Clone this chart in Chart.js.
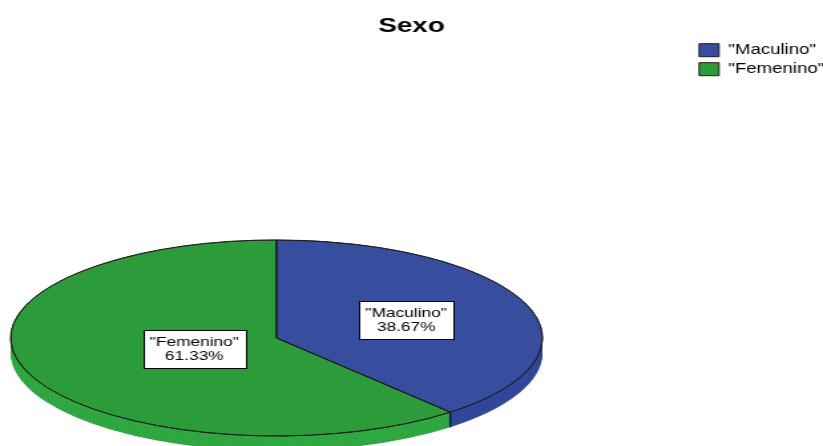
<!DOCTYPE html>
<html>
<head>
<meta charset="utf-8">
<script src="https://cdn.jsdelivr.net/npm/chart.js@4.4.1/dist/chart.umd.min.js"></script>
<style>
  html, body { margin: 0; padding: 0; background: #fff; overflow: hidden; }
  /* the chart is laid out narrow and stretched sideways, like the SPSS export */
  #wrap { width: 619px; height: 446px; transform: scaleX(1.3296); transform-origin: 0 0; }
</style>
</head>
<body>
<div id="wrap"><canvas id="sexoChart" width="619" height="446"></canvas></div>
<script>
const categories = ['"Maculino"', '"Femenino"'];
const percentages = [38.67, 61.33];
const sliceColors = ['#374d9e', '#2c9c3b'];
const sideColors = ['#32479a', '#30a842'];
const labelRadius = [0.52, 0.33];   // where each slice label sits, as a share of the radius

const FONT = '"Liberation Sans", Arial, sans-serif';

// flattens the pie into a tilted disc and gives it a side wall
const tiltPlugin = {
    id: 'tilt',
    beforeDatasetsDraw(chart, args, opts) {
        const ctx = chart.ctx;
        const arcs = chart.getDatasetMeta(0).data;
        const step = 1 / opts.tilt;
        ctx.save();
        ctx.translate(opts.cx, opts.cy);
        ctx.scale(1, opts.tilt);
        ctx.translate(-arcs[0].x, -arcs[0].y);

        for (let d = opts.depth; d >= 1; d--) {
            arcs.forEach((arc, i) => {
                ctx.beginPath();
                ctx.moveTo(arc.x, arc.y + d * step);
                ctx.arc(arc.x, arc.y + d * step, arc.outerRadius, arc.startAngle, arc.endAngle);
                ctx.closePath();
                ctx.fillStyle = sideColors[i];
                ctx.fill();
            });
        }

        // seams between slices on the front of the wall
        const a0 = arcs[0];
        ctx.beginPath();
        arcs.forEach(arc => {
            const a = ((arc.endAngle % (2 * Math.PI)) + 2 * Math.PI) % (2 * Math.PI);
            if (a > 0 && a < Math.PI) {
                const x = a0.x + a0.outerRadius * Math.cos(a);
                const y = a0.y + a0.outerRadius * Math.sin(a);
                ctx.moveTo(x, y);
                ctx.lineTo(x, y + opts.depth * step);
            }
        });
        ctx.save();
        ctx.setTransform(1, 0, 0, 1, 0, 0);
        ctx.strokeStyle = '#141414';
        ctx.lineWidth = 1.2;
        ctx.stroke();
        ctx.restore();
    },
    afterDatasetsDraw(chart, args, opts) {
        const ctx = chart.ctx;
        const arcs = chart.getDatasetMeta(0).data;

        // crisp outline of the top face
        ctx.beginPath();
        arcs.forEach(arc => {
            ctx.moveTo(arc.x, arc.y);
            ctx.arc(arc.x, arc.y, arc.outerRadius, arc.startAngle, arc.endAngle);
            ctx.closePath();
        });
        ctx.setTransform(1, 0, 0, 1, 0, 0);
        ctx.strokeStyle = '#1e1e1e';
        ctx.lineWidth = 1;
        ctx.stroke();
        ctx.restore();

        // value boxes
        ctx.save();
        ctx.font = '13px ' + FONT;
        ctx.textAlign = 'center';
        ctx.textBaseline = 'middle';
        arcs.forEach((arc, i) => {
            const mid = (arc.startAngle + arc.endAngle) / 2;
            const r = arc.outerRadius * labelRadius[i];
            const x = opts.cx + r * Math.cos(mid);
            const y = opts.cy + opts.tilt * r * Math.sin(mid);
            const lines = [categories[i], percentages[i].toFixed(2) + '%'];
            const w = Math.max(...lines.map(t => ctx.measureText(t).width)) + 10;
            const h = 38;
            const left = Math.round(x - w / 2) + 0.5;
            const top = Math.round(y - h / 2) + 0.5;
            ctx.fillStyle = '#fff';
            ctx.fillRect(left, top, Math.round(w), h);
            ctx.strokeStyle = '#000';
            ctx.lineWidth = 1;
            ctx.strokeRect(left, top, Math.round(w), h);
            ctx.fillStyle = '#000';
            ctx.fillText(lines[0], x, y - 7);
            ctx.fillText(lines[1], x, y + 7);
        });
        ctx.restore();
    }
};

const ctx = document.getElementById('sexoChart').getContext('2d');
new Chart(ctx, {
    type: 'pie',
    data: {
        labels: categories,
        datasets: [{
            data: percentages,
            backgroundColor: sliceColors,
            borderColor: '#1e1e1e',
            borderWidth: 1,
            radius: 200,
            clip: false
        }]
    },
    options: {
        responsive: false,
        animation: false,
        events: [],
        layout: { padding: { left: -11, right: -11 } },
        plugins: {
            title: {
                display: true,
                text: 'Sexo',
                color: '#000',
                font: { family: FONT, size: 21, weight: 'bold' },
                padding: { top: 14, bottom: -1 }
            },
            legend: {
                position: 'right',
                align: 'start',
                fullSize: false,
                labels: {
                    color: '#000',
                    font: { family: FONT, size: 14 },
                    boxWidth: 15,
                    boxHeight: 13,
                    padding: 5
                }
            },
            tooltip: { enabled: false },
            tilt: { cx: 208, cy: 338, tilt: 0.49, depth: 15 }
        }
    },
    plugins: [tiltPlugin]
});
</script>
</body>
</html>
